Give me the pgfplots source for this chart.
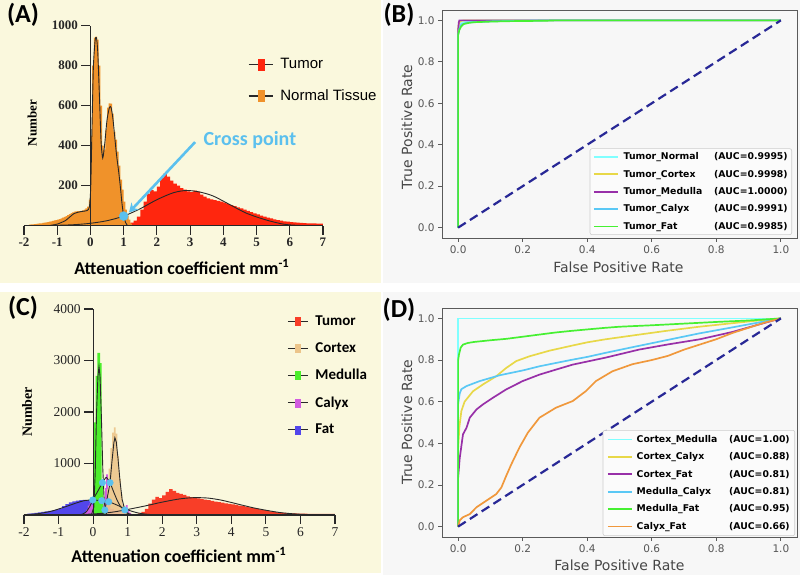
\documentclass[border=0pt]{standalone}
\usepackage{fontspec}
\setmainfont{Liberation Serif}
\newfontfamily\calfont{Carlito}
\newfontfamily\arialfont{Liberation Sans}
\newfontfamily\djv{DejaVu Sans}
\usepackage{pgfplots}
\pgfplotsset{compat=1.18}
\usetikzlibrary{arrows.meta}

\definecolor{cream}{RGB}{250,248,221}
\definecolor{rocbg}{RGB}{247,247,247}
\definecolor{orangeA}{RGB}{240,146,42}
\definecolor{redA}{RGB}{255,38,14}
\definecolor{crossblue}{RGB}{91,192,238}
\definecolor{redC}{RGB}{248,62,40}
\definecolor{tanC}{RGB}{236,197,138}
\definecolor{greenC}{RGB}{76,238,44}
\definecolor{magC}{RGB}{210,92,224}
\definecolor{blueC}{RGB}{82,70,235}
\definecolor{rocCyan}{RGB}{128,255,255}
\definecolor{rocYellow}{RGB}{232,216,72}
\definecolor{rocPurple}{RGB}{152,48,168}
\definecolor{rocBlue}{RGB}{90,200,245}
\definecolor{rocGreen}{RGB}{70,240,50}
\definecolor{rocOrange}{RGB}{240,152,60}
\definecolor{rocNavy}{RGB}{40,40,150}
\definecolor{framegray}{RGB}{90,90,90}
\definecolor{tickgray}{RGB}{85,85,85}
\definecolor{labgray}{RGB}{70,70,70}
\definecolor{axisdark}{RGB}{40,40,40}
\definecolor{legedge}{RGB}{205,205,205}
\definecolor{legfill}{RGB}{251,251,251}

\tikzset{roclab/.style={font=\djv\fontsize{14}{14}\selectfont, text=labgray}}
% legend entries of the two ROC panels: name on the left, AUC flush right
\newcommand\rocB[2]{\hspace{4pt}\makebox[164pt]{#1\hfill(AUC=#2)}}
\newcommand\rocD[2]{\hspace{3pt}\makebox[153pt]{#1\hfill(AUC=#2)}}

\pgfplotsset{
  histax/.style={
    scale only axis, xmin=-2, xmax=7, ymin=0,
    axis x line=bottom, axis y line=middle,
    axis line style={-, line width=1.1pt, axisdark},
    tick style={line width=1.1pt, axisdark},
    tick align=outside, major tick length=9pt,
    hide obscured x ticks=false,
    xtick={-2,-1,0,1,2,3,4,5,6,7},
    xticklabels={-2,-1,0,1,2,3,4,5,6,7},
    scaled ticks=false, axis on top,
    /pgf/number format/assume math mode=true,
    legend cell align=left,
    xlabel={Attenuation coefficient mm\textsuperscript{-1}},
    ylabel={Number},
  },
  rocax/.style={
    scale only axis, width=355pt,
    xmin=-0.05, xmax=1.05, ymin=-0.05, ymax=1.05,
    axis background/.style={fill=rocbg},
    axis line style={framegray, line width=0.9pt},
    tick style={framegray, line width=0.9pt},
    tick align=outside, major tick length=4pt, tick pos=left,
    xtick={0,0.2,0.4,0.6,0.8,1}, ytick={0,0.2,0.4,0.6,0.8,1},
    xticklabels={0.0,0.2,0.4,0.6,0.8,1.0},
    yticklabels={0.0,0.2,0.4,0.6,0.8,1.0},
    tick label style={font=\djv\fontsize{10.5}{10.5}\selectfont, text=tickgray},
    xlabel={False Positive Rate}, ylabel={True Positive Rate},
    legend cell align=left,
    legend image code/.code={\draw[#1, line width=1.7pt] (0pt,0pt) -- (24pt,0pt);},
    legend style={draw=legedge, fill=legfill, rounded corners=2pt, line width=0.6pt,
      font=\djv\bfseries\fontsize{9.3}{9.3}\selectfont,
      nodes={inner sep=1pt}, row sep=6.8pt},
  },
}

\begin{document}
\begin{tikzpicture}
\fill[white] (0pt,0pt) rectangle (800pt,575pt);
\fill[cream] (0pt,292pt) rectangle (381pt,575pt);
\fill[rocbg] (383pt,292pt) rectangle (800pt,575pt);
\fill[cream] (0pt,2pt) rectangle (381pt,283pt);
\fill[rocbg] (383pt,0pt) rectangle (800pt,283pt);

% ---------------- (A) histogram, tumour vs normal tissue
\begin{axis}[histax,
  at={(24pt,349.3pt)}, anchor=south west,
  width=299pt, height=200pt, ymax=1000,
  ytick={200,400,600,800,1000}, yticklabels={200,400,600,800,1000},
  tick label style={font=\bfseries\fontsize{13}{13}\selectfont, text=black!85},
  every axis x label/.style={at={(axis description cs:0.528,-0.2065)}, anchor=center,
    font=\calfont\bfseries\fontsize{18}{18}\selectfont},
  every axis y label/.style={at={(axis description cs:0.027,0.5135)}, anchor=center, rotate=90,
    font=\bfseries\fontsize{13}{13}\selectfont},
  legend style={draw=none, fill=none, inner sep=0pt, at={(axis description cs:0.749,0.843)},
    anchor=north west, font=\arialfont\fontsize{15}{15}\selectfont,
    nodes={inner sep=1pt}, row sep=17.8pt},
]
\addplot[const plot, fill=redA, draw=none, forget plot] coordinates {
 (1.1,5)(1.2,15)(1.3,25)(1.4,45)(1.5,80)(1.6,120)(1.7,160)(1.8,178)(1.9,172)(2.0,195)
 (2.1,240)(2.2,262)(2.3,245)(2.4,225)(2.5,210)(2.6,200)(2.7,188)(2.8,180)(2.9,172)(3.0,168)
 (3.1,175)(3.2,170)(3.3,155)(3.4,145)(3.5,137)(3.6,132)(3.7,128)(3.8,124)(3.9,120)(4.0,115)
 (4.1,108)(4.2,103)(4.3,98)(4.4,92)(4.5,87)(4.6,80)(4.7,74)(4.8,68)(4.9,62)(5.0,56)
 (5.1,50)(5.2,45)(5.3,40)(5.4,36)(5.5,32)(5.6,28)(5.7,25)(5.8,22)(5.9,20)(6.0,18)
 (6.1,16)(6.2,15)(6.3,14)(6.4,13)(6.5,12)(6.6,11)(6.7,11)(6.8,10)(6.9,10)(7.0,0)} \closedcycle;
\addplot[const plot, fill=orangeA, draw=none, forget plot] coordinates {
 (-1.85,5)(-1.80,6)(-1.75,7)(-1.70,8)(-1.65,9)(-1.60,10)(-1.55,11)(-1.50,12)(-1.45,14)(-1.40,15)
 (-1.35,17)(-1.30,18)(-1.25,20)(-1.20,22)(-1.15,24)(-1.10,26)(-1.05,28)(-1.00,30)(-0.95,33)(-0.90,36)
 (-0.85,40)(-0.80,44)(-0.75,48)(-0.70,53)(-0.65,58)(-0.60,63)(-0.55,67)(-0.50,70)(-0.45,72)(-0.40,73)
 (-0.35,73)(-0.30,74)(-0.25,76)(-0.20,80)(-0.15,86)(-0.10,95)(-0.05,130)(0.00,450)(0.05,800)(0.10,940)
 (0.15,945)(0.20,930)(0.25,800)(0.30,600)(0.35,400)(0.40,380)(0.45,480)(0.50,590)(0.55,612)(0.60,610)
 (0.65,560)(0.70,470)(0.75,430)(0.80,370)(0.85,300)(0.90,230)(0.95,180)(1.00,120)(1.05,80)(1.10,50)
 (1.15,30)(1.20,10)(1.25,0)} \closedcycle;
\addplot[smooth, tension=0.4, axisdark, line width=0.9pt, forget plot] coordinates {
 (-1.25,0)(-1.0,8)(-0.75,26)(-0.5,60)(-0.3,70)(-0.1,76)(-0.03,95)(0.01,200)(0.05,520)(0.09,800)
 (0.14,925)(0.18,940)(0.22,870)(0.27,650)(0.32,420)(0.37,338)(0.43,410)(0.5,530)(0.57,590)(0.62,592)
 (0.68,530)(0.78,362)(0.85,270)(0.9,195)(0.95,110)(1.0,50)(1.06,15)(1.12,0)};
\addplot[smooth, axisdark, line width=0.9pt, forget plot] coordinates {
 (-1.5,0)(-1,2)(-0.5,5)(0,12)(0.5,25)(1.0,48)(1.5,85)(2.0,130)(2.5,165)(2.9,176)
 (3.3,168)(3.7,148)(4.2,105)(4.7,62)(5.3,28)(5.8,8)(6.2,2)(6.6,0)};
\addplot[only marks, mark=*, mark size=4.5pt, color=crossblue, forget plot] coordinates {(1.0,48)};
\draw[crossblue, line width=2.6pt, -{Stealth[length=9pt,width=10pt]}] (axis cs:3.15,418) -- (axis cs:1.16,66);
\node[crossblue, font=\calfont\bfseries\fontsize{20}{20}\selectfont] at (axis cs:4.8,428) {Cross point};
\addlegendimage{legend image code/.code={\draw[axisdark,line width=1.2pt] (0pt,0pt)--(24pt,0pt); \fill[redA] (9pt,-5.5pt) rectangle (15pt,5.5pt);}}
\addlegendentry{\hspace{6pt}Tumor\vphantom{Tgy}}
\addlegendimage{legend image code/.code={\draw[axisdark,line width=1.2pt] (0pt,0pt)--(24pt,0pt); \fill[orangeA] (9pt,-5.5pt) rectangle (15pt,5.5pt);}}
\addlegendentry{\hspace{6pt}Normal Tissue\vphantom{Tgy}}
\end{axis}

% ---------------- (B) ROC, tumour against each tissue
\begin{axis}[rocax,
  at={(442pt,337pt)}, anchor=south west, height=228pt,
  every axis x label/.style={roclab, at={(axis description cs:0.497,-0.127)}, anchor=center},
  every axis y label/.style={roclab, at={(axis description cs:-0.0986,0.487)}, anchor=center, rotate=90},
  legend style={at={(axis description cs:0.9859,0.0132)}, anchor=south east, inner sep=3pt},
]
\addplot[rocCyan, line width=1.7pt] coordinates {(0,0)(0,0.94)(0.003,0.97)(0.008,0.985)(0.015,0.99)(0.03,0.995)(0.06,0.998)(0.12,1)(1,1)};
\addlegendentry{\rocB{Tumor\_Normal}{0.9995}}
\addplot[rocYellow, line width=1.7pt] coordinates {(0,0)(0,0.96)(0.003,0.99)(0.01,0.998)(0.02,1)(1,1)};
\addlegendentry{\rocB{Tumor\_Cortex}{0.9998}}
\addplot[rocPurple, line width=1.7pt] coordinates {(0,0)(0,0.95)(0.002,0.99)(0.004,1)(1,1)};
\addlegendentry{\rocB{Tumor\_Medulla}{1.0000}}
\addplot[rocBlue, line width=1.7pt] coordinates {(0,0)(0,0.93)(0.004,0.96)(0.01,0.98)(0.03,0.99)(0.1,0.995)(0.15,0.997)(0.27,1)(1,1)};
\addlegendentry{\rocB{Tumor\_Calyx}{0.9991}}
\addplot[rocGreen, line width=1.7pt] coordinates {(0,0)(0,0.93)(0.004,0.955)(0.01,0.972)(0.017,0.982)(0.03,0.987)(0.048,0.991)(0.1,0.994)(0.15,0.996)(0.27,0.998)(0.3,1)(1,1)};
\addlegendentry{\rocB{Tumor\_Fat}{0.9985}}
\addplot[rocNavy, line width=2.2pt, dash pattern=on 9pt off 5pt, forget plot] coordinates {(0,0)(1,1)};
\end{axis}

% ---------------- (C) histogram, five tissues
\begin{axis}[histax,
  at={(24pt,60pt)}, anchor=south west,
  width=311pt, height=206pt, ymax=4000,
  ytick={1000,2000,3000,4000}, yticklabels={1000,2000,3000,4000},
  tick label style={font=\fontsize{13.5}{13.5}\selectfont, text=black!85},
  every axis x label/.style={at={(axis description cs:0.498,-0.194)}, anchor=center,
    font=\calfont\bfseries\fontsize{18}{18}\selectfont},
  every axis y label/.style={at={(axis description cs:0.0096,0.5)}, anchor=center, rotate=90,
    font=\bfseries\fontsize{14}{14}\selectfont},
  legend style={draw=none, fill=none, inner sep=0pt, at={(axis description cs:0.8457,0.972)},
    anchor=north west, font=\calfont\bfseries\fontsize{15}{15}\selectfont,
    nodes={inner sep=1pt}, row sep=13.4pt},
]
\addplot[const plot, fill=blueC, draw=none, forget plot] coordinates {
 (-1.9,25)(-1.8,32)(-1.7,40)(-1.6,50)(-1.5,60)(-1.4,70)(-1.3,80)(-1.2,92)(-1.1,105)(-1.0,130)
 (-0.9,170)(-0.8,210)(-0.7,245)(-0.6,265)(-0.5,280)(-0.4,290)(-0.3,292)(-0.2,290)(-0.1,265)(0.0,0)} \closedcycle;
\addplot[const plot, fill=redC, draw=none, forget plot] coordinates {
 (1.2,10)(1.3,30)(1.4,60)(1.5,120)(1.6,220)(1.7,300)(1.8,350)(1.9,330)(2.0,380)(2.1,450)
 (2.2,500)(2.3,470)(2.4,430)(2.5,410)(2.6,390)(2.7,360)(2.8,345)(2.9,330)(3.0,322)(3.1,315)
 (3.2,300)(3.3,290)(3.4,275)(3.5,262)(3.6,250)(3.7,238)(3.8,226)(3.9,215)(4.0,205)(4.1,195)
 (4.2,183)(4.3,172)(4.4,160)(4.5,148)(4.6,135)(4.7,122)(4.8,108)(4.9,96)(5.0,84)(5.1,72)
 (5.2,62)(5.3,52)(5.4,45)(5.5,40)(5.6,35)(5.7,32)(5.8,30)(5.9,28)(6.0,26)(6.1,25)
 (6.2,24)(6.3,23)(6.4,22)(6.5,21)(6.6,21)(6.7,20)(6.8,20)(6.9,20)(7.0,0)} \closedcycle;
\addplot[const plot, fill=magC, draw=none, forget plot] coordinates {
 (-0.25,40)(-0.2,100)(-0.15,180)(-0.1,230)(-0.05,200)(0.0,150)(0.05,120)(0.1,100)(0.15,100)(0.2,120)
 (0.25,180)(0.3,300)(0.35,520)(0.375,790)(0.425,350)(0.45,200)(0.5,120)(0.6,90)(0.7,90)(0.8,110)
 (0.9,150)(0.95,190)(1.0,120)(1.05,40)(1.1,0)} \closedcycle;
\addplot[const plot, fill=tanC, fill opacity=0.9, draw=none, forget plot] coordinates {
 (0.25,40)(0.30,90)(0.35,200)(0.40,500)(0.45,900)(0.50,1300)(0.55,1600)(0.60,1700)(0.65,1580)(0.70,1150)
 (0.75,700)(0.80,400)(0.85,200)(0.90,100)(0.95,50)(1.00,20)(1.05,0)} \closedcycle;
\addplot[const plot, fill=greenC, draw=none, forget plot] coordinates {
 (0.0,300)(0.03,1800)(0.07,2700)(0.12,3150)(0.2,2950)(0.25,600)(0.3,150)(0.35,0)} \closedcycle;
\addplot[smooth, axisdark, line width=0.9pt, forget plot] coordinates {
 (-2,5)(-1.6,25)(-1.2,75)(-0.8,160)(-0.5,230)(-0.25,280)(-0.01,291)(0.25,278)(0.45,258)(0.7,190)
 (1.0,100)(1.3,40)(1.6,12)(2.0,0)};
\addplot[smooth, axisdark, line width=0.9pt, forget plot] coordinates {
 (-1.5,0)(-1,3)(-0.5,8)(0,20)(0.5,50)(0.92,97)(1.5,175)(2.0,250)(2.5,312)(2.9,336)
 (3.3,330)(3.7,290)(4.2,210)(4.6,145)(4.9,105)(5.4,48)(5.9,18)(6.4,5)(7.0,0)};
\addplot[smooth, tension=0.3, axisdark, line width=0.9pt, forget plot] coordinates {
 (-0.35,0)(-0.2,60)(-0.1,160)(-0.01,291)(0.1,420)(0.2,540)(0.27,627)(0.38,730)(0.49,627)(0.6,440)
 (0.7,280)(0.8,160)(0.92,80)(1.05,20)(1.2,0)};
\addplot[axisdark, line width=0.9pt, forget plot] coordinates {
 (0.24,0)(0.34,97)(0.4,300)(0.45,480)(0.49,627)(0.54,1000)(0.6,1400)(0.63,1500)(0.67,1420)(0.72,1100)
 (0.78,650)(0.84,300)(0.92,97)(1.0,20)(1.1,0)};
\addplot[axisdark, line width=0.9pt, forget plot] coordinates {
 (-0.05,0)(0.02,150)(0.06,800)(0.1,2000)(0.14,2700)(0.17,2880)(0.2,2700)(0.24,1900)(0.28,900)(0.32,300)
 (0.36,50)(0.42,0)};
\addplot[only marks, mark=*, mark size=3.3pt, color=crossblue, forget plot] coordinates {
 (0.27,627)(0.49,627)(-0.01,291)(0.25,278)(0.45,258)(0.34,97)(0.92,97)};
\addlegendimage{legend image code/.code={\draw[axisdark,line width=1.2pt] (0pt,0pt)--(20pt,0pt); \fill[redC] (7.5pt,-4pt) rectangle (12.5pt,4pt);}}
\addlegendentry{\hspace{6pt}Tumor\vphantom{Tgy}}
\addlegendimage{legend image code/.code={\draw[axisdark,line width=1.2pt] (0pt,0pt)--(20pt,0pt); \fill[tanC] (7.5pt,-4pt) rectangle (12.5pt,4pt);}}
\addlegendentry{\hspace{6pt}Cortex\vphantom{Tgy}}
\addlegendimage{legend image code/.code={\draw[axisdark,line width=1.2pt] (0pt,0pt)--(20pt,0pt); \fill[greenC] (7.5pt,-4pt) rectangle (12.5pt,4pt);}}
\addlegendentry{\hspace{6pt}Medulla\vphantom{Tgy}}
\addlegendimage{legend image code/.code={\draw[axisdark,line width=1.2pt] (0pt,0pt)--(20pt,0pt); \fill[magC] (7.5pt,-4pt) rectangle (12.5pt,4pt);}}
\addlegendentry{\hspace{6pt}Calyx\vphantom{Tgy}}
\addlegendimage{legend image code/.code={\draw[axisdark,line width=1.2pt] (0pt,0pt)--(20pt,0pt); \fill[blueC] (7.5pt,-4pt) rectangle (12.5pt,4pt);}}
\addlegendentry{\hspace{6pt}Fat\vphantom{Tgy}}
\end{axis}

% ---------------- (D) ROC, tissue against tissue
\begin{axis}[rocax,
  at={(442pt,38pt)}, anchor=south west, height=229pt,
  every axis x label/.style={roclab, at={(axis description cs:0.5,-0.122)}, anchor=center},
  every axis y label/.style={roclab, at={(axis description cs:-0.0986,0.502)}, anchor=center, rotate=90},
  legend style={at={(axis description cs:0.9944,0.0044)}, anchor=south east, inner sep=4pt},
]
\addplot[rocCyan, line width=1.7pt] coordinates {(0,0)(0,1)(1,1)};
\addlegendentry{\rocD{Cortex\_Medulla}{1.00}}
\addplot[rocYellow, line width=1.7pt] coordinates {
 (0,0)(0,0.38)(0.004,0.48)(0.01,0.555)(0.02,0.6)(0.046,0.65)(0.077,0.683)(0.118,0.722)(0.149,0.762)(0.18,0.795)
 (0.221,0.818)(0.283,0.845)(0.355,0.87)(0.4,0.885)(0.458,0.9)(0.541,0.918)(0.644,0.94)(0.747,0.96)(0.85,0.977)(0.93,0.99)(1,1)};
\addlegendentry{\rocD{Cortex\_Calyx}{0.88}}
\addplot[rocPurple, line width=1.7pt] coordinates {
 (0,0)(0,0.236)(0.005,0.33)(0.015,0.443)(0.026,0.475)(0.036,0.523)(0.057,0.563)(0.077,0.587)(0.108,0.619)(0.149,0.659)
 (0.2,0.699)(0.252,0.73)(0.303,0.754)(0.355,0.778)(0.458,0.812)(0.56,0.85)(0.65,0.875)(0.75,0.9)(0.85,0.935)(0.93,0.97)(1,1)};
\addlegendentry{\rocD{Cortex\_Fat}{0.81}}
\addplot[rocBlue, line width=1.7pt] coordinates {
 (0,0)(0,0.59)(0.005,0.64)(0.01,0.66)(0.026,0.675)(0.067,0.699)(0.129,0.727)(0.2,0.75)(0.252,0.77)(0.3,0.785)
 (0.355,0.802)(0.4,0.815)(0.458,0.835)(0.541,0.862)(0.644,0.895)(0.747,0.928)(0.85,0.957)(0.93,0.98)(1,1)};
\addlegendentry{\rocD{Medulla\_Calyx}{0.81}}
\addplot[rocGreen, line width=1.7pt] coordinates {
 (0,0)(0,0.8)(0.003,0.83)(0.008,0.86)(0.015,0.874)(0.03,0.882)(0.05,0.887)(0.1,0.895)(0.15,0.902)(0.2,0.912)
 (0.25,0.922)(0.3,0.932)(0.35,0.94)(0.4,0.947)(0.45,0.954)(0.5,0.96)(0.6,0.967)(0.7,0.975)(0.8,0.983)(0.9,0.99)(1,1)};
\addlegendentry{\rocD{Medulla\_Fat}{0.95}}
\addplot[rocOrange, line width=1.7pt] coordinates {
 (0,0)(0.005,0.03)(0.015,0.045)(0.036,0.06)(0.057,0.093)(0.087,0.124)(0.118,0.156)(0.134,0.188)(0.149,0.244)(0.165,0.3)
 (0.19,0.38)(0.216,0.451)(0.252,0.523)(0.303,0.571)(0.355,0.603)(0.396,0.651)(0.427,0.699)(0.478,0.746)(0.54,0.78)(0.6,0.8)
 (0.65,0.82)(0.7,0.85)(0.75,0.875)(0.8,0.9)(0.85,0.93)(0.9,0.955)(0.95,0.98)(1,1)};
\addlegendentry{\rocD{Calyx\_Fat}{0.66}}
\addplot[rocNavy, line width=2.2pt, dash pattern=on 9pt off 5pt, forget plot] coordinates {(0,0)(1,1)};
\end{axis}

\node[font=\calfont\bfseries\fontsize{26}{26}\selectfont] at (23pt,560pt) {(A)};
\node[font=\calfont\bfseries\fontsize{26}{26}\selectfont] at (399pt,560pt) {(B)};
\node[font=\calfont\bfseries\fontsize{26}{26}\selectfont] at (23pt,267pt) {(C)};
\node[font=\calfont\bfseries\fontsize{26}{26}\selectfont] at (399pt,265pt) {(D)};

\pgfresetboundingbox
\path[use as bounding box] (0pt,0pt) rectangle (800pt,575pt);
\end{tikzpicture}
\end{document}
